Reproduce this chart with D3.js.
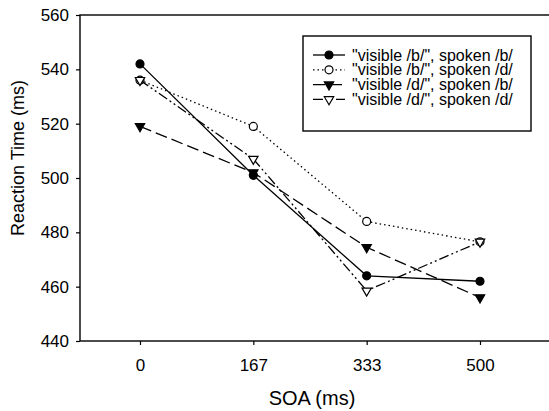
<!DOCTYPE html>
<html>
<head>
<meta charset="utf-8">
<script src="https://cdn.jsdelivr.net/npm/d3@7"></script>
<style>
  body { margin: 0; background: #fff; }
  svg { display: block; font-family: "Liberation Sans", Arial, sans-serif; }
</style>
</head>
<body>
<script>
// data
const soaLabels = ["0", "167", "333", "500"]
const seriesNames = [
  "\"visible /b/\", spoken /b/",
  "\"visible /b/\", spoken /d/",
  "\"visible /d/\", spoken /b/",
  "\"visible /d/\", spoken /d/",
]
const visBSpokenB = [542, 501, 464, 462]
const visBSpokenD = [536, 519, 484, 476.5]
const visDSpokenB = [519, 502, 474.5, 456]
const visDSpokenD = [536, 507, 458.5, 476.5]
const yTicks = [440, 460, 480, 500, 520, 540, 560]

async function drawChart() {
  const series = [visBSpokenB, visBSpokenD, visDSpokenB, visDSpokenD]
  const styles = [
    { dash: null, marker: "circle", fill: "#000" },
    { dash: "1.5,3", marker: "circle", fill: "#fff" },
    { dash: "12,5", marker: "triangle", fill: "#000" },
    { dash: "10,3,2,3,2,3", marker: "triangle", fill: "#fff" },
  ]

  let dimensions = {
    width: 549,
    height: 411,
    margin: {
      top: 15,
      right: -4,
      bottom: 70,
      left: 80,
    },
  }
  dimensions.boundedWidth = dimensions.width - dimensions.margin.left - dimensions.margin.right
  dimensions.boundedHeight = dimensions.height - dimensions.margin.top - dimensions.margin.bottom

  const wrapper = d3.select("body")
    .append("svg")
      .attr("width", dimensions.width)
      .attr("height", dimensions.height)

  const bounds = wrapper.append("g")
    .attr("transform", `translate(${dimensions.margin.left}, ${dimensions.margin.top})`)

  // scales
  const xScale = d3.scalePoint()
    .domain(soaLabels)
    .range([60, 400])

  const yScale = d3.scaleLinear()
    .domain([440, 560])
    .range([dimensions.boundedHeight, 0])

  // frame
  bounds.append("rect")
    .attr("width", dimensions.boundedWidth)
    .attr("height", dimensions.boundedHeight)
    .attr("fill", "none")
    .attr("stroke", "#000")
    .attr("stroke-width", 1.4)

  // axes
  const xAxis = bounds.append("g")
    .attr("transform", `translate(0, ${dimensions.boundedHeight})`)
    .call(d3.axisBottom(xScale).tickSize(4).tickPadding(14))
  xAxis.select(".domain").remove()
  xAxis.selectAll("text").style("font-size", "17px").attr("fill", "#000")
  xAxis.selectAll("line").attr("stroke-width", 1.2)

  const yAxis = bounds.append("g")
    .call(d3.axisLeft(yScale).tickValues(yTicks).tickSize(4).tickPadding(7))
  yAxis.select(".domain").remove()
  yAxis.selectAll("text").style("font-size", "17px").attr("fill", "#000")
  yAxis.selectAll("line").attr("stroke-width", 1.2)

  wrapper.append("text")
    .attr("x", 312)
    .attr("y", 405)
    .attr("text-anchor", "middle")
    .style("font-size", "20px")
    .text("SOA (ms)")

  wrapper.append("text")
    .attr("transform", "translate(24, 158) rotate(-90)")
    .attr("text-anchor", "middle")
    .style("font-size", "18px")
    .text("Reaction Time (ms)")

  // lines and markers
  const lineGenerator = d3.line()
    .x((d, i) => xScale(soaLabels[i]))
    .y(d => yScale(d))

  const drawMarker = (g, style, x, y) => {
    if (style.marker == "circle") {
      g.append("circle")
        .attr("cx", x)
        .attr("cy", y)
        .attr("r", 4)
        .attr("fill", style.fill)
        .attr("stroke", "#000")
        .attr("stroke-width", 1.2)
    } else {
      g.append("path")
        .attr("d", d3.symbol(d3.symbolTriangle, 38)())
        .attr("transform", `translate(${x}, ${y}) rotate(180)`)
        .attr("fill", style.fill)
        .attr("stroke", "#000")
        .attr("stroke-width", 1.2)
    }
  }

  series.forEach((values, s) => {
    const style = styles[s]
    const g = bounds.append("g")
    g.append("path")
      .datum(values)
      .attr("d", lineGenerator)
      .attr("fill", "none")
      .attr("stroke", "#000")
      .attr("stroke-width", 1.3)
      .attr("stroke-dasharray", style.dash)
    values.forEach((v, i) => drawMarker(g, style, xScale(soaLabels[i]), yScale(v)))
  })

  // legend
  const legend = wrapper.append("g")
  legend.append("rect")
    .attr("x", 303)
    .attr("y", 36)
    .attr("width", 228)
    .attr("height", 95)
    .attr("fill", "#fff")
    .attr("stroke", "#000")
    .attr("stroke-width", 1.4)

  seriesNames.forEach((name, s) => {
    const style = styles[s]
    const y = 55 + s * 14.8
    const row = legend.append("g")
    row.append("line")
      .attr("x1", 313)
      .attr("x2", 345)
      .attr("y1", y)
      .attr("y2", y)
      .attr("stroke", "#000")
      .attr("stroke-width", 1.3)
      .attr("stroke-dasharray", style.dash)
    drawMarker(row, style, 329, y)
    row.append("text")
      .attr("x", 352)
      .attr("y", y + 5.5)
      .style("font-size", "16px")
      .text(name)
  })
}
drawChart()
</script>
</body>
</html>
